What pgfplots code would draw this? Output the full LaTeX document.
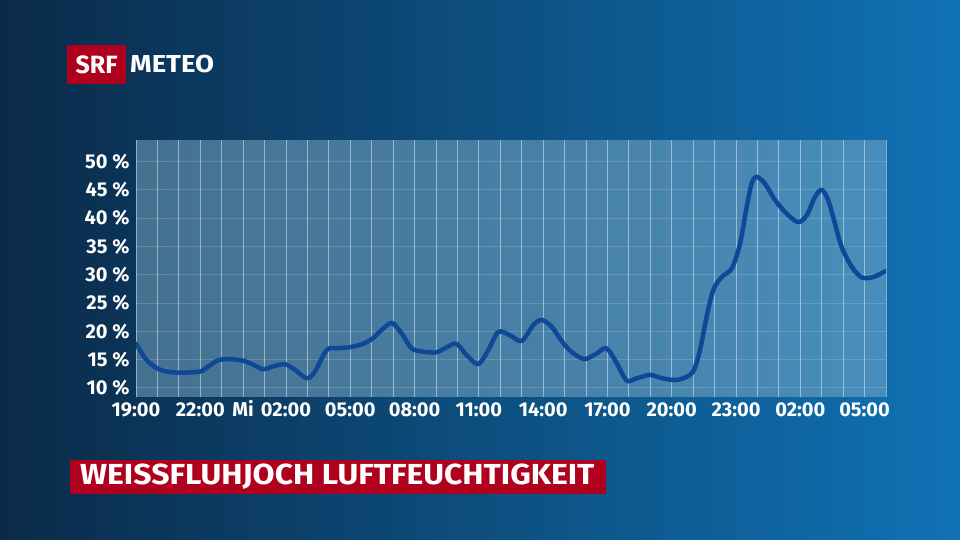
\documentclass[border=0pt]{standalone}
\usepackage{fontspec}
\setmainfont{Fira Sans}
\usepackage{graphicx}
\usepackage{pgfplots}
\pgfplotsset{compat=1.18}
\definecolor{srfred}{HTML}{AF001E}
\definecolor{bgL}{HTML}{0A2A48}
\definecolor{bgM}{HTML}{0D4D80}
\definecolor{bgR}{HTML}{1072B5}
\definecolor{plotfill}{RGB}{130,175,202}
\definecolor{hline}{HTML}{0F4896}
\pgfplotstableread{
h v
0 17.8
0.5 14.9
0.97 13.5
1.43 12.9
2.05 12.7
2.99 12.9
3.37 13.8
3.84 14.9
4.39 15.1
5.0 14.8
5.47 14.1
5.94 13.3
6.41 13.8
6.95 14.2
7.42 13.2
7.97 11.7
8.35 12.9
8.9 16.7
9.37 17.0
9.99 17.2
10.6 17.8
11.07 18.8
11.39 20.0
11.93 21.5
12.4 19.6
12.86 17.0
13.41 16.4
14.03 16.3
14.5 17.2
14.96 17.8
15.43 15.8
15.97 14.2
16.44 16.7
16.91 19.9
17.45 19.3
18.0 18.3
18.54 21.1
18.93 22.0
19.4 20.8
19.94 17.9
20.41 16.1
20.95 15.1
21.5 16.1
21.96 17.0
22.43 14.4
22.9 11.3
23.36 11.7
23.99 12.3
24.45 11.8
25.07 11.4
25.54 11.7
26.0 12.9
26.32 16.7
26.63 22.6
26.94 27.3
27.33 29.6
27.8 31.1
28.19 35.5
28.5 42.0
28.73 46.1
28.96 47.3
29.35 46.1
29.82 43.2
30.36 40.8
30.9 39.3
31.3 40.5
31.68 43.7
32.0 45.0
32.3 43.2
32.62 39.0
32.93 34.9
33.4 31.4
33.87 29.5
34.41 29.6
34.91 30.5
35 30.6
}\humidity
\begin{document}
\begin{tikzpicture}[x=1pt,y=1pt]
\shade[left color=bgL, middle color=bgM, right color=bgR] (0,0) rectangle (960,540);
\useasboundingbox (0,0) rectangle (960,540);
% logo
\fill[srfred] (67,456) rectangle (126,495);
\node[white, inner sep=0pt, font=\fontsize{25}{25}\selectfont\bfseries] at (96.5,475.5) {SRF};
\node[white, inner sep=0pt, anchor=west, font=\fontsize{24.5}{25}\selectfont\bfseries] at (130,475.5) {\scalebox{1.12}[1]{METEO}};
% title banner
\fill[srfred] (70,46) rectangle (606,80);
\node[white, inner sep=0pt, anchor=west, font=\fontsize{29}{29}\selectfont\bfseries] at (80,63) {\scalebox{1.1}[1]{WEISSFLUHJOCH LUFTFEUCHTIGKEIT}};
\begin{axis}[
  at={(136pt,143pt)}, anchor=south west, scale only axis,
  width=750pt, height=257pt,
  xmin=0, xmax=35, ymin=8.4, ymax=53.8,
  axis line style={draw=none},
  axis background/.style={fill=plotfill, fill opacity=0.5},
  major tick length=0pt, minor tick length=0pt,
  xtick={0,3,5,7,10,13,16,19,22,25,28,31,34},
  xticklabels={19:00,22:00,Mi,02:00,05:00,08:00,11:00,14:00,17:00,20:00,23:00,02:00,05:00},
  minor xtick={0,1,...,35},
  xmajorgrids=false, xminorgrids=true,
  minor x grid style={white, opacity=0.45, line width=0.9pt},
  ytick={10,15,...,50},
  yticklabels={10 \%,15 \%,20 \%,25 \%,30 \%,35 \%,40 \%,45 \%,50 \%},
  ymajorgrids=true,
  y grid style={white, opacity=0.15, line width=0.9pt},
  xticklabel style={white, font=\fontsize{20}{20}\selectfont\bfseries, anchor=base, yshift=-20pt},
  yticklabel style={white, font=\fontsize{20}{20}\selectfont\bfseries, xshift=-3pt},
]
\addplot[hline, line width=4.5pt, smooth, tension=0.5, line cap=round, line join=round] table[x=h, y=v] {\humidity};
\end{axis}
\end{tikzpicture}
\end{document}
